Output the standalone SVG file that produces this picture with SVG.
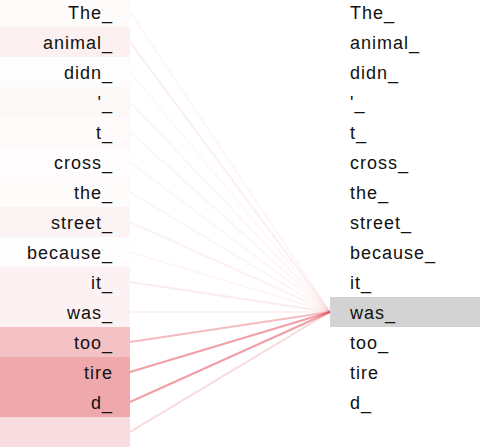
<svg xmlns="http://www.w3.org/2000/svg" width="480" height="448" viewBox="0 0 480 448">
<style>
text{font-family:"Liberation Sans",Arial,sans-serif;font-size:18px;fill:#111;letter-spacing:1px}
.l{text-anchor:end}
.c line{stroke:#e0404c;stroke-width:2}
</style>
<rect width="480" height="448" fill="#fff"/>
<g id="connectors" class="c">
<line x1="130" y1="12" x2="330" y2="312" stroke-opacity="0.05"/>
<line x1="130" y1="42" x2="330" y2="312" stroke-opacity="0.09"/>
<line x1="130" y1="72" x2="330" y2="312" stroke-opacity="0.04"/>
<line x1="130" y1="102" x2="330" y2="312" stroke-opacity="0.05"/>
<line x1="130" y1="132" x2="330" y2="312" stroke-opacity="0.05"/>
<line x1="130" y1="162" x2="330" y2="312" stroke-opacity="0.05"/>
<line x1="130" y1="192" x2="330" y2="312" stroke-opacity="0.06"/>
<line x1="130" y1="222" x2="330" y2="312" stroke-opacity="0.07"/>
<line x1="130" y1="252" x2="330" y2="312" stroke-opacity="0.05"/>
<line x1="130" y1="282" x2="330" y2="312" stroke-opacity="0.1"/>
<line x1="130" y1="312" x2="330" y2="312" stroke-opacity="0.08"/>
<line x1="130" y1="342" x2="330" y2="312" stroke-opacity="0.35"/>
<line x1="130" y1="372" x2="330" y2="312" stroke-opacity="0.5"/>
<line x1="130" y1="402" x2="330" y2="312" stroke-opacity="0.5"/>
<line x1="130" y1="432" x2="330" y2="312" stroke-opacity="0.2"/>
</g>
<g id="left">
<g id="l0"><rect x="0" y="-3" width="130" height="30" fill="#fefbfb"/><text class="l" x="113" y="19">The_</text></g>
<g id="l1"><rect x="0" y="27" width="130" height="30" fill="#fcf0f0"/><text class="l" x="113" y="49">animal_</text></g>
<g id="l2"><rect x="0" y="57" width="130" height="30" fill="#fefdfd"/><text class="l" x="113" y="79">didn_</text></g>
<g id="l3"><rect x="0" y="87" width="130" height="30" fill="#fdf8f8"/><text class="l" x="113" y="109">'_</text></g>
<g id="l4"><rect x="0" y="117" width="130" height="30" fill="#fefafa"/><text class="l" x="113" y="139">t_</text></g>
<g id="l5"><rect x="0" y="147" width="130" height="30" fill="#fefcfc"/><text class="l" x="113" y="169">cross_</text></g>
<g id="l6"><rect x="0" y="177" width="130" height="30" fill="#fefbfb"/><text class="l" x="113" y="199">the_</text></g>
<g id="l7"><rect x="0" y="207" width="130" height="30" fill="#fcf4f4"/><text class="l" x="113" y="229">street_</text></g>
<g id="l8"><rect x="0" y="237" width="130" height="30" fill="#fefdfd"/><text class="l" x="113" y="259">because_</text></g>
<g id="l9"><rect x="0" y="267" width="130" height="30" fill="#fcf2f3"/><text class="l" x="113" y="289">it_</text></g>
<g id="l10"><rect x="0" y="297" width="130" height="30" fill="#fcf1f3"/><text class="l" x="113" y="319">was_</text></g>
<g id="l11"><rect x="0" y="327" width="130" height="30" fill="#f4c1c4"/><text class="l" x="113" y="349">too_</text></g>
<g id="l12"><rect x="0" y="357" width="130" height="30" fill="#efa9ac"/><text class="l" x="113" y="379">tire</text></g>
<g id="l13"><rect x="0" y="387" width="130" height="30" fill="#efa9ac"/><text class="l" x="113" y="409">d_</text></g>
<g id="l14"><rect x="0" y="417" width="130" height="30" fill="#f9dcdf"/></g>
</g>
<g id="right">
<g id="r10"><rect x="330" y="297" width="150" height="30" fill="#d3d3d3"/></g>
<g id="r0"><text x="350" y="19">The_</text></g>
<g id="r1"><text x="350" y="49">animal_</text></g>
<g id="r2"><text x="350" y="79">didn_</text></g>
<g id="r3"><text x="350" y="109">'_</text></g>
<g id="r4"><text x="350" y="139">t_</text></g>
<g id="r5"><text x="350" y="169">cross_</text></g>
<g id="r6"><text x="350" y="199">the_</text></g>
<g id="r7"><text x="350" y="229">street_</text></g>
<g id="r8"><text x="350" y="259">because_</text></g>
<g id="r9"><text x="350" y="289">it_</text></g>
<g id="r10t"><text x="350" y="319">was_</text></g>
<g id="r11"><text x="350" y="349">too_</text></g>
<g id="r12"><text x="350" y="379">tire</text></g>
<g id="r13"><text x="350" y="409">d_</text></g>
</g>
</svg>
